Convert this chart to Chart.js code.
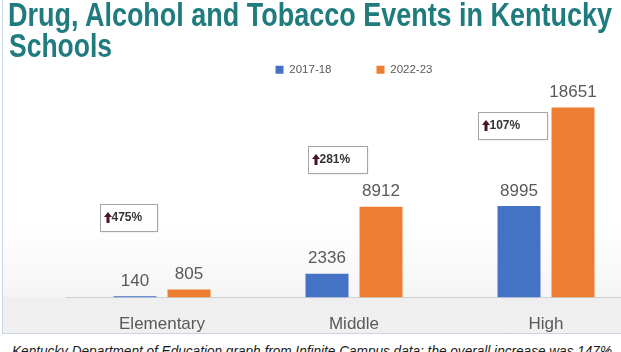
<!DOCTYPE html>
<html>
<head>
<meta charset="utf-8">
<script src="https://cdn.jsdelivr.net/npm/chart.js@4.4.1/dist/chart.umd.min.js"></script>
<style>
  html, body { margin: 0; padding: 0; width: 621px; height: 352px; overflow: hidden; background: #fff; }
  #panel {
    position: absolute; left: 2px; top: 0; width: 700px; height: 333px; overflow: hidden;
    border-left: 1px solid #c9d4e6; border-bottom: 1px solid #c9d4e6;
    background: linear-gradient(to bottom, #fff 0px, #fff 225px, #f5f5f5 296px, #efefef 298px, #f0f0f0 333px);
  }
  #chartBox { position: absolute; left: -2px; top: 0; width: 680px; height: 353px; }
  .fit { position: absolute; white-space: nowrap; transform-origin: 0 0; }
  #title1, #title2 { color: #1f7b7d; font-family: "Liberation Sans", Arial, sans-serif; font-size: 33px; font-weight: bold; }
  #title1 { left: 8px; top: -4px; }
  #title2 { left: 9px; top: 27px; }
  #caption { left: 12px; top: 343px; font-family: "Liberation Sans", Arial, sans-serif; font-style: italic; font-size: 14px; color: #1a1a1a; }
</style>
</head>
<body>
<div id="panel">
  <div id="chartBox"><canvas id="barChart"></canvas></div>
</div>
<div id="title1" class="fit" data-w="604">Drug, Alcohol and Tobacco Events in Kentucky</div>
<div id="title2" class="fit" data-w="103">Schools</div>
<div id="caption" class="fit" data-w="600">Kentucky Department of Education graph from Infinite Campus data; the overall increase was 147%</div>
<script>
// data
const categories = ["Elementary", "Middle", "High"];
const seriesNames = ["2017-18", "2022-23"];
const events2017 = [140, 2336, 8995];
const events2022 = [805, 8912, 18651];
const increaseLabels = ["475%", "281%", "107%"];

// squeeze the html texts to the widths they have in the picture
document.querySelectorAll(".fit").forEach(function(el) {
    const target = parseFloat(el.dataset.w);
    const w = el.getBoundingClientRect().width;
    el.style.transform = "scaleX(" + (target / w) + ")";
});

// value labels above every bar
const valueLabels = {
    id: "valueLabels",
    afterDatasetsDraw(chart) {
        const ctx = chart.ctx;
        ctx.save();
        ctx.font = "17px 'Liberation Sans', Arial, sans-serif";
        ctx.fillStyle = "#595959";
        ctx.textAlign = "center";
        ctx.textBaseline = "middle";
        chart.data.datasets.forEach((ds, di) => {
            chart.getDatasetMeta(di).data.forEach((bar, i) => {
                ctx.fillText(String(ds.data[i]), bar.x, bar.y - 15);
            });
        });
        ctx.restore();
    }
};

// boxes with the increase, placed through the scales
const increaseBoxes = {
    id: "increaseBoxes",
    afterDraw(chart, args, opts) {
        const ctx = chart.ctx;
        const xs = chart.scales.x, ys = chart.scales.y;
        ctx.save();
        opts.spots.forEach((s, i) => {
            const cx = xs.getPixelForValue(i) + s.dx;
            const cy = ys.getPixelForValue(s.value);
            const x = Math.round(cx - s.w / 2) + 0.5, y = Math.round(cy - 13) + 0.5;
            ctx.shadowColor = "rgba(0,0,0,0.15)";
            ctx.shadowBlur = 2;
            ctx.fillStyle = "#fff";
            ctx.fillRect(x, y, s.w, 27);
            ctx.shadowBlur = 0;
            ctx.strokeStyle = "#a6a6a6";
            ctx.lineWidth = 1;
            ctx.strokeRect(x, y, s.w, 27);
            // up arrow
            const ax = x + 7.5, ay = y + 7.5;
            ctx.fillStyle = "#4b1326";
            ctx.beginPath();
            ctx.moveTo(ax, ay);
            ctx.lineTo(ax + 4, ay + 5);
            ctx.lineTo(ax - 4, ay + 5);
            ctx.closePath();
            ctx.fill();
            ctx.fillRect(ax - 1.5, ay + 4, 3, 7);
            ctx.fillStyle = "#333";
            ctx.font = "bold 12px 'Liberation Sans', Arial, sans-serif";
            ctx.textBaseline = "middle";
            ctx.textAlign = "left";
            ctx.fillText(increaseLabels[i], ax + 3.5, y + 13.5);
        });
        ctx.restore();
    }
};

const ctx = document.getElementById("barChart").getContext("2d");
new Chart(ctx, {
    type: "bar",
    data: {
        labels: categories,
        datasets: [
            { label: seriesNames[0], data: events2017, backgroundColor: "#4472c4" },
            { label: seriesNames[1], data: events2022, backgroundColor: "#ed7d31" }
        ]
    },
    options: {
        responsive: true,
        maintainAspectRatio: false,
        animation: false,
        categoryPercentage: 0.5625,
        barPercentage: 0.796,
        layout: { padding: { left: 65, right: 39, top: 19, bottom: 1 } },
        plugins: {
            legend: {
                position: "top",
                labels: {
                    boxWidth: 8,
                    boxHeight: 8,
                    padding: 45,
                    color: "#595959",
                    font: { family: "'Liberation Sans', Arial, sans-serif", size: 11.5 }
                }
            },
            tooltip: { enabled: false },
            increaseBoxes: {
                spots: [
                    { dx: -34, value: 7950, w: 57 },
                    { dx: -17, value: 13570, w: 59 },
                    { dx: -34, value: 16930, w: 69 }
                ]
            }
        },
        scales: {
            y: {
                display: false,
                min: 0,
                max: 20800
            },
            x: {
                grid: { display: false, drawTicks: false },
                border: { display: true, color: "#cfd3d8", width: 1 },
                ticks: {
                    padding: 17,
                    color: "#595959",
                    font: { family: "'Liberation Sans', Arial, sans-serif", size: 17 }
                }
            }
        }
    },
    plugins: [valueLabels, increaseBoxes]
});
</script>
</body>
</html>
